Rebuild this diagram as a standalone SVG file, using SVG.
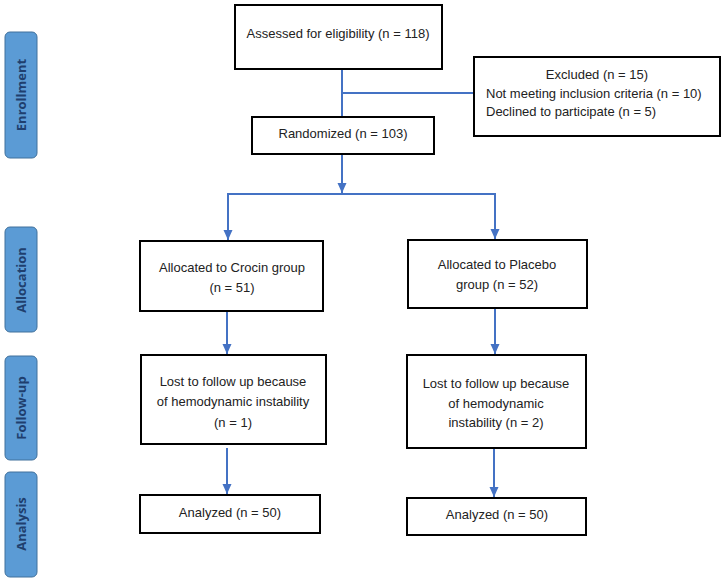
<svg xmlns="http://www.w3.org/2000/svg" width="722" height="578" viewBox="0 0 722 578">
<style>
.box{fill:#fff;stroke:#000;stroke-width:2}
.tab{fill:#5B9BD5;stroke:#41719C;stroke-width:1}
.tabt{font-family:"Open Sans","Liberation Sans",sans-serif;font-weight:bold;font-size:13px;fill:#1F3F6E;text-anchor:middle;dominant-baseline:central}
.t{font-family:"Liberation Sans",Arial,sans-serif;font-size:13px;fill:#222;text-anchor:middle}
.tl{font-family:"Liberation Sans",Arial,sans-serif;font-size:13px;fill:#222}
.c{fill:none;stroke:#4472C4;stroke-width:2}
.a{marker-end:url(#ah)}
</style>
<defs>
<marker id="ah" markerUnits="userSpaceOnUse" markerWidth="10" markerHeight="10" refX="10" refY="5" orient="auto" viewBox="0 0 10 10">
<path d="M0,0.5 L10,5 L0,9.5 Z" fill="#4472C4"/>
</marker>
</defs>
<g id="tabs">
<g id="tab-enrollment"><rect class="tab" x="5" y="32" width="32" height="126" rx="5"/><text class="tabt" transform="translate(21 95) rotate(-90)">Enrollment</text></g>
<g id="tab-allocation"><rect class="tab" x="5" y="227" width="32" height="105" rx="5"/><text class="tabt" transform="translate(21 280) rotate(-90)">Allocation</text></g>
<g id="tab-followup"><rect class="tab" x="5" y="356" width="32" height="104" rx="5"/><text class="tabt" transform="translate(21 408) rotate(-90)">Follow-up</text></g>
<g id="tab-analysis"><rect class="tab" x="5" y="472" width="32" height="105" rx="5"/><text class="tabt" transform="translate(21 524) rotate(-90)">Analysis</text></g>
</g>
<g id="connectors">
<line class="c" x1="342" y1="69" x2="342" y2="117"/>
<line class="c" x1="342" y1="93" x2="474" y2="93"/>
<line class="c a" x1="342" y1="154" x2="342" y2="193"/>
<polyline class="c" points="228,232 228,194 495,194 495,231"/>
<line class="c a" x1="228" y1="200" x2="228" y2="240"/>
<line class="c a" x1="495" y1="200" x2="495" y2="239"/>
<line class="c a" x1="227" y1="311" x2="227" y2="354"/>
<line class="c a" x1="495" y1="308" x2="495" y2="354"/>
<line class="c a" x1="227" y1="448" x2="227" y2="494"/>
<line class="c a" x1="494" y1="448" x2="494" y2="497"/>
</g>
<g id="assessed"><rect class="box" x="235" y="5" width="207" height="64"/><text class="t" x="338" y="38">Assessed for eligibility (n = 118)</text></g>
<g id="excluded"><rect class="box" x="474" y="57" width="246" height="79"/><text class="t" x="597" y="79">Excluded (n = 15)</text><text class="tl" x="486" y="98">Not meeting inclusion criteria (n = 10)</text><text class="tl" x="486" y="116">Declined to participate (n = 5)</text></g>
<g id="randomized"><rect class="box" x="252" y="117" width="182" height="37"/><text class="t" x="343" y="138">Randomized (n = 103)</text></g>
<g id="crocin"><rect class="box" x="140" y="241" width="183" height="70"/><text class="t" x="232" y="272">Allocated to Crocin group</text><text class="t" x="232" y="292">(n = 51)</text></g>
<g id="placebo"><rect class="box" x="408" y="240" width="179" height="68"/><text class="t" x="497" y="269">Allocated to Placebo</text><text class="t" x="497" y="289">group (n = 52)</text></g>
<g id="lost-crocin"><rect class="box" x="141" y="355" width="185" height="89"/><text class="t" x="233" y="386">Lost to follow up because</text><text class="t" x="233" y="406">of hemodynamic instability</text><text class="t" x="233" y="427">(n = 1)</text></g>
<g id="lost-placebo"><rect class="box" x="407" y="355" width="179" height="93"/><text class="t" x="496" y="388">Lost to follow up because</text><text class="t" x="496" y="408">of hemodynamic</text><text class="t" x="496" y="427">instability (n = 2)</text></g>
<g id="analyzed-crocin"><rect class="box" x="140" y="495" width="180" height="38"/><text class="t" x="230" y="517">Analyzed (n = 50)</text></g>
<g id="analyzed-placebo"><rect class="box" x="407" y="498" width="179" height="37"/><text class="t" x="497" y="519">Analyzed (n = 50)</text></g>
</svg>
